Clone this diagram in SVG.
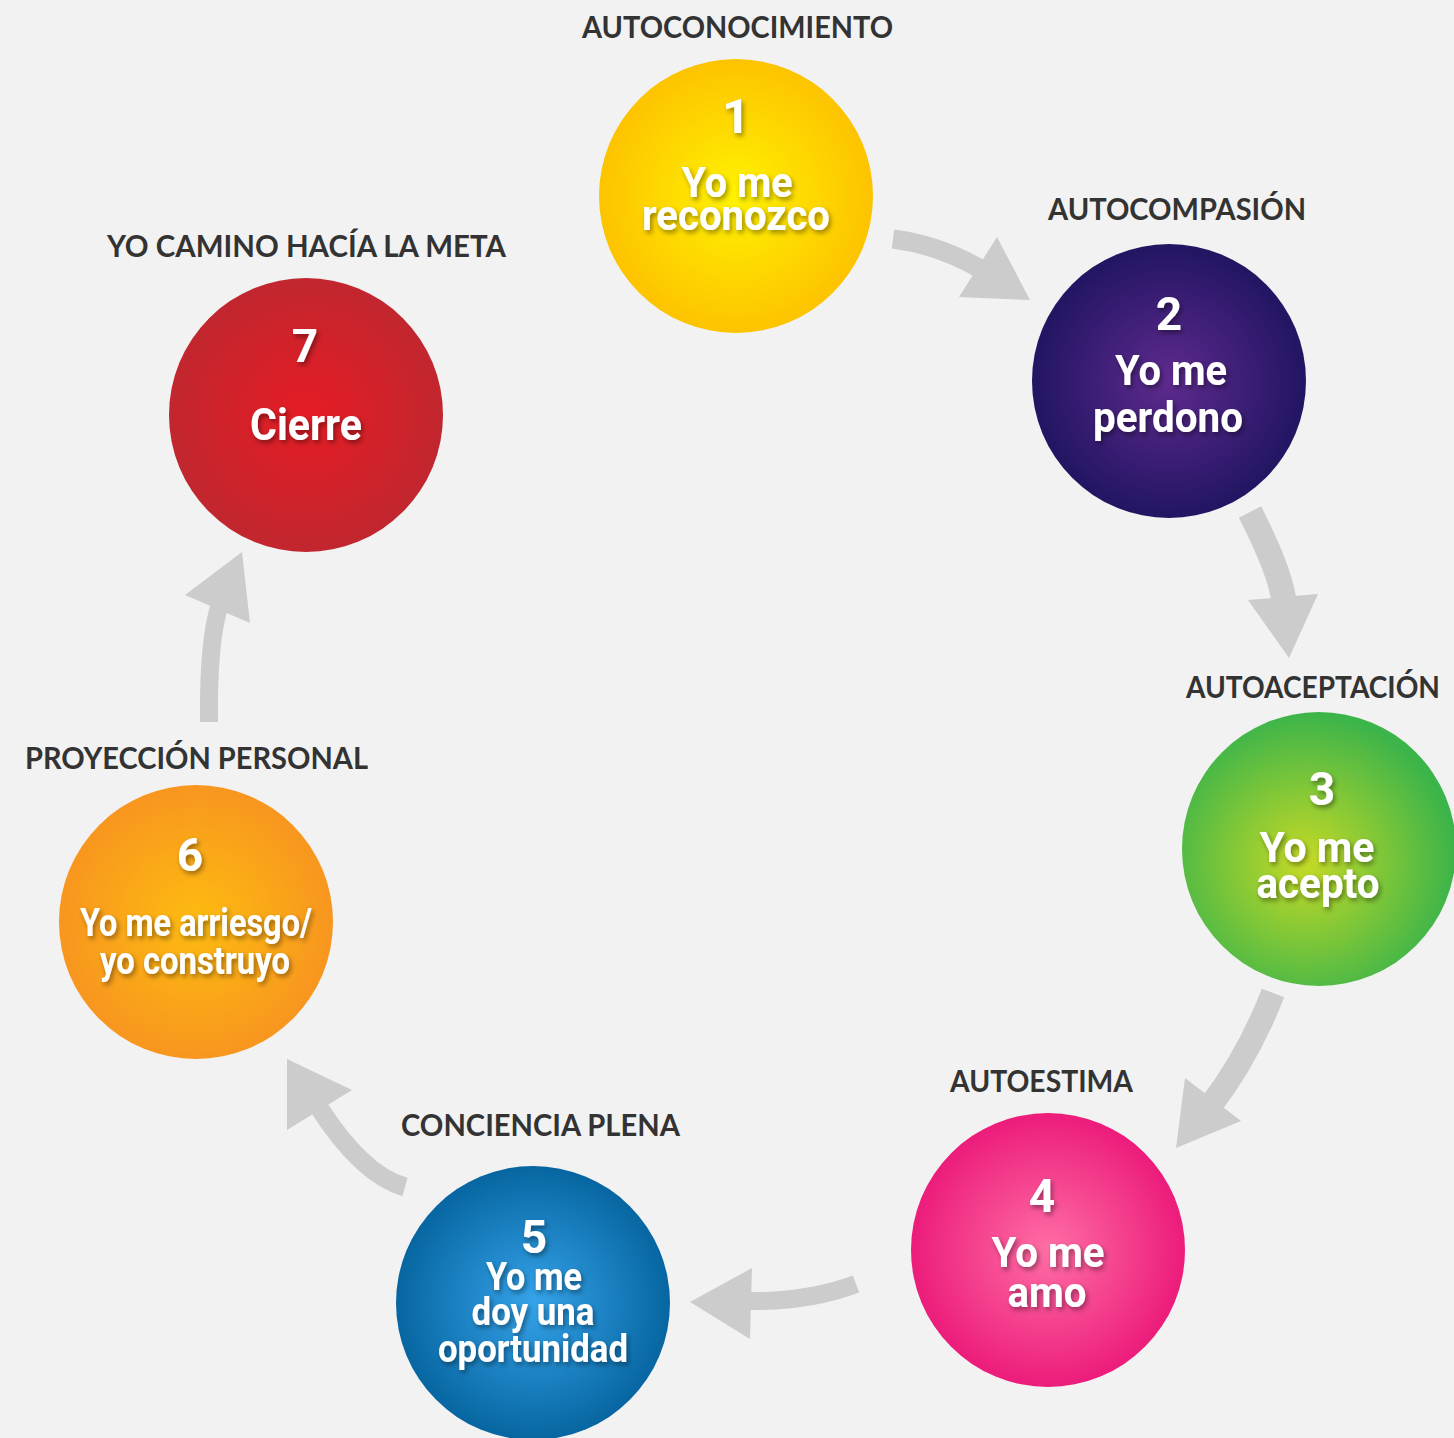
<svg xmlns="http://www.w3.org/2000/svg" width="1454" height="1438" viewBox="0 0 1454 1438">
<defs>
<style>
.lbl{font-family:Lato,"Liberation Sans",sans-serif;font-weight:700;fill:#333333;font-size:31px}
.ct{font-family:Roboto,"Liberation Sans",sans-serif;font-weight:700;fill:#ffffff;text-anchor:middle}
.shaft{fill:none;stroke:#cccccc;stroke-linecap:butt}
.head{fill:#cccccc}
</style>
<filter id="sh" x="-20%" y="-20%" width="140%" height="160%">
<feDropShadow dx="2" dy="3" stdDeviation="2.5" flood-color="#000" flood-opacity="0.4"/>
</filter>
<radialGradient id="g1" cx="50%" cy="50%" r="50%"><stop offset="0" stop-color="#fff200"/><stop offset="1" stop-color="#fdc300"/></radialGradient>
<radialGradient id="g2" cx="50%" cy="50%" r="50%"><stop offset="0" stop-color="#5e2a8e"/><stop offset="1" stop-color="#221562"/></radialGradient>
<radialGradient id="g3" cx="45%" cy="55%" r="55%"><stop offset="0" stop-color="#c6da25"/><stop offset="1" stop-color="#3bb44a"/></radialGradient>
<radialGradient id="g4" cx="50%" cy="50%" r="50%"><stop offset="0" stop-color="#ff6ea5"/><stop offset="1" stop-color="#ec1c7b"/></radialGradient>
<radialGradient id="g5" cx="50%" cy="50%" r="50%"><stop offset="0" stop-color="#35a3ea"/><stop offset="1" stop-color="#0766a1"/></radialGradient>
<radialGradient id="g6" cx="50%" cy="50%" r="50%"><stop offset="0" stop-color="#fdbb10"/><stop offset="1" stop-color="#f8961f"/></radialGradient>
<radialGradient id="g7" cx="50%" cy="50%" r="50%"><stop offset="0" stop-color="#e61c25"/><stop offset="1" stop-color="#c1262e"/></radialGradient>
</defs>
<rect width="1454" height="1438" fill="#f2f2f2"/>

<g id="connectors">
<path class="shaft" stroke-width="19" d="M893,239 Q940,245 982,270"/>
<polygon class="head" points="997,237 1030,300 959,297"/>
<path class="shaft" stroke-width="25" d="M1250,512 Q1281,573 1284,602"/>
<polygon class="head" points="1248,600 1318,594 1289,658"/>
<path class="shaft" stroke-width="24" d="M1273,993 Q1248,1057 1211,1105"/>
<polygon class="head" points="1185,1078 1241,1121 1176,1148"/>
<path class="shaft" stroke-width="18" d="M856,1284 Q808,1302 748,1301"/>
<polygon class="head" points="752,1268 750,1339 690,1302"/>
<path class="shaft" stroke-width="19" d="M405,1187 Q362,1175 318,1106"/>
<polygon class="head" points="287,1130 352,1090 287,1059"/>
<path class="shaft" stroke-width="18" d="M209,722 Q208,640 220,604"/>
<polygon class="head" points="185,595 250,623 242,552"/>
</g>

<g id="node1">
<text class="lbl" x="582" y="38" textLength="311" lengthAdjust="spacingAndGlyphs">AUTOCONOCIMIENTO</text>
<circle cx="736" cy="196" r="137" fill="url(#g1)"/>
<g filter="url(#sh)">
<text class="ct" x="736" y="133" font-size="48">1</text>
<text class="ct" x="737" y="197" font-size="42" textLength="111" lengthAdjust="spacingAndGlyphs">Yo me</text>
<text class="ct" x="736" y="230" font-size="42" textLength="188" lengthAdjust="spacingAndGlyphs">reconozco</text>
</g>
</g>

<g id="node2">
<text class="lbl" x="1048" y="220" textLength="258" lengthAdjust="spacingAndGlyphs">AUTOCOMPASIÓN</text>
<circle cx="1169" cy="381" r="137" fill="url(#g2)"/>
<g filter="url(#sh)">
<text class="ct" x="1169" y="330" font-size="46">2</text>
<text class="ct" x="1171" y="385" font-size="42" textLength="112" lengthAdjust="spacingAndGlyphs">Yo me</text>
<text class="ct" x="1168" y="432" font-size="42" textLength="150" lengthAdjust="spacingAndGlyphs">perdono</text>
</g>
</g>

<g id="node3">
<text class="lbl" x="1186" y="698" font-size="30" textLength="254" lengthAdjust="spacingAndGlyphs">AUTOACEPTACIÓN</text>
<circle cx="1319" cy="849" r="137" fill="url(#g3)"/>
<g filter="url(#sh)">
<text class="ct" x="1322" y="805" font-size="46">3</text>
<text class="ct" x="1317" y="862" font-size="42" textLength="115" lengthAdjust="spacingAndGlyphs">Yo me</text>
<text class="ct" x="1318" y="898" font-size="42" textLength="123" lengthAdjust="spacingAndGlyphs">acepto</text>
</g>
</g>

<g id="node4">
<text class="lbl" x="950" y="1092" textLength="183" lengthAdjust="spacingAndGlyphs">AUTOESTIMA</text>
<circle cx="1048" cy="1250" r="137" fill="url(#g4)"/>
<g filter="url(#sh)">
<text class="ct" x="1042" y="1212" font-size="46">4</text>
<text class="ct" x="1048" y="1267" font-size="42" textLength="113" lengthAdjust="spacingAndGlyphs">Yo me</text>
<text class="ct" x="1047" y="1307" font-size="42" textLength="79" lengthAdjust="spacingAndGlyphs">amo</text>
</g>
</g>

<g id="node5">
<text class="lbl" x="401" y="1136" textLength="279" lengthAdjust="spacingAndGlyphs">CONCIENCIA PLENA</text>
<circle cx="533" cy="1303" r="137" fill="url(#g5)"/>
<g filter="url(#sh)">
<text class="ct" x="534" y="1253" font-size="46">5</text>
<text class="ct" x="534" y="1290" font-size="38" textLength="96" lengthAdjust="spacingAndGlyphs">Yo me</text>
<text class="ct" x="533" y="1325" font-size="38" textLength="123" lengthAdjust="spacingAndGlyphs">doy una</text>
<text class="ct" x="533" y="1362" font-size="38" textLength="190" lengthAdjust="spacingAndGlyphs">oportunidad</text>
</g>
</g>

<g id="node6">
<text class="lbl" x="25" y="769" textLength="343" lengthAdjust="spacingAndGlyphs">PROYECCIÓN PERSONAL</text>
<circle cx="196" cy="922" r="137" fill="url(#g6)"/>
<g filter="url(#sh)">
<text class="ct" x="190" y="871" font-size="46">6</text>
<text class="ct" x="196" y="936" font-size="38" textLength="232" lengthAdjust="spacingAndGlyphs">Yo me arriesgo/</text>
<text class="ct" x="195" y="974" font-size="38" textLength="190" lengthAdjust="spacingAndGlyphs">yo construyo</text>
</g>
</g>

<g id="node7">
<text class="lbl" x="107" y="257" textLength="399" lengthAdjust="spacingAndGlyphs">YO CAMINO HACÍA LA META</text>
<circle cx="306" cy="415" r="137" fill="url(#g7)"/>
<g filter="url(#sh)">
<text class="ct" x="305" y="362" font-size="46">7</text>
<text class="ct" x="306" y="440" font-size="45" textLength="112" lengthAdjust="spacingAndGlyphs">Cierre</text>
</g>
</g>
</svg>
